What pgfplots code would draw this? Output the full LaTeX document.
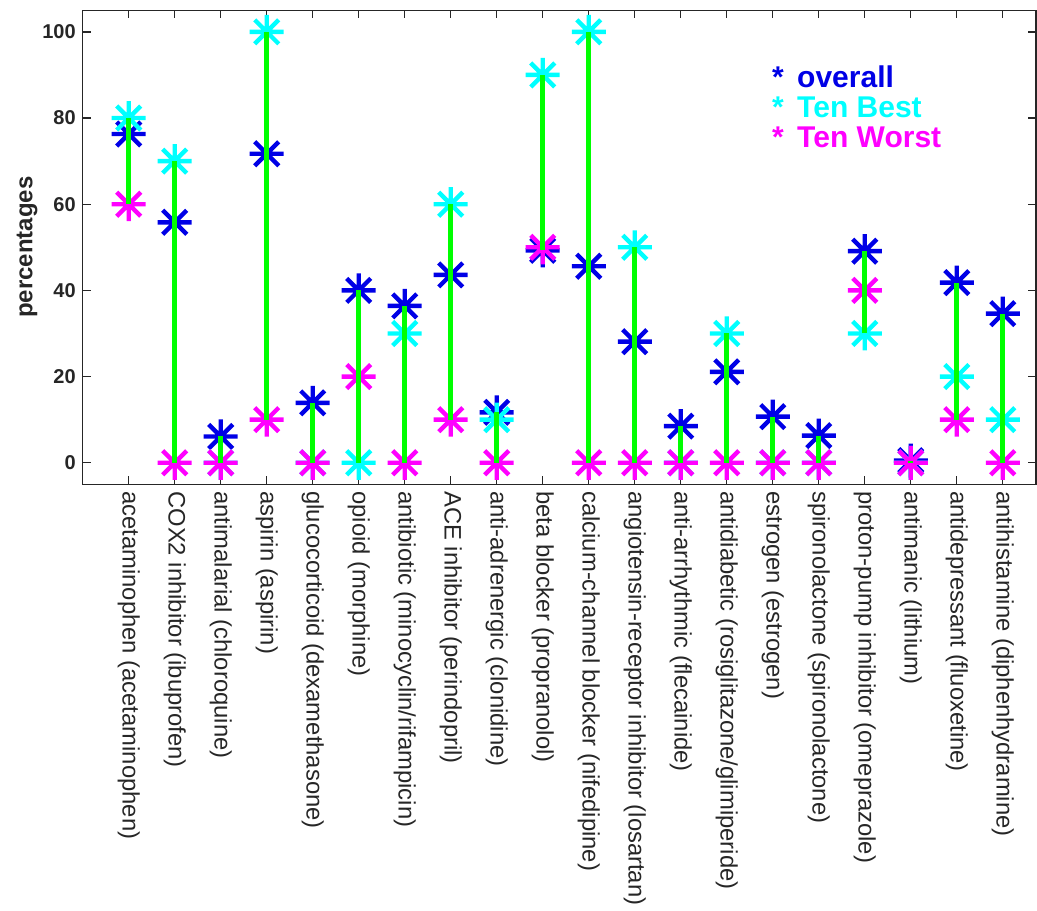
\documentclass[border=0pt]{standalone}
\usepackage{fontspec}
\setmainfont{Liberation Sans}
\usepackage{pgfplots}
\pgfplotsset{compat=1.18}
\usepackage{pgfplotstable}
\definecolor{axgray}{RGB}{38,38,38}
\definecolor{mblue}{RGB}{0,0,230}
\definecolor{mcyan}{RGB}{0,255,255}
\definecolor{mmag}{RGB}{255,0,255}
\definecolor{mgreen}{RGB}{0,255,0}
\pgfdeclareplotmark{mstar}{%
 \pgfpathmoveto{\pgfpoint{-\pgfplotmarksize}{0pt}}\pgfpathlineto{\pgfpoint{\pgfplotmarksize}{0pt}}%
 \pgfpathmoveto{\pgfpoint{0pt}{-\pgfplotmarksize}}\pgfpathlineto{\pgfpoint{0pt}{\pgfplotmarksize}}%
 \pgfpathmoveto{\pgfpoint{-0.707\pgfplotmarksize}{-0.707\pgfplotmarksize}}\pgfpathlineto{\pgfpoint{0.707\pgfplotmarksize}{0.707\pgfplotmarksize}}%
 \pgfpathmoveto{\pgfpoint{-0.707\pgfplotmarksize}{0.707\pgfplotmarksize}}\pgfpathlineto{\pgfpoint{0.707\pgfplotmarksize}{-0.707\pgfplotmarksize}}%
 \pgfusepathqstroke}
\pgfplotstableread{
x overall best worst
1 76.3 80 60
2 55.8 70 0
3 6.1 0 0
4 71.7 100 10
5 13.9 0 0
6 40 0 20
7 36.4 30 0
8 43.6 60 10
9 11.7 10 0
10 49.3 90 50
11 45.6 100 0
12 28.1 50 0
13 8.5 0 0
14 21.1 30 0
15 10.7 0 0
16 6.3 0 0
17 49.1 30 40
18 0.5 0 0
19 41.8 20 10
20 34.6 10 0
}\data
\begin{document}
\begin{tikzpicture}
\begin{axis}[name=ax, set layers, scale only axis, width=476.6pt, height=237pt,
 xmin=0, xmax=20.72, ymin=-5, ymax=105,
 xtick={1,...,20},
 xticklabels={acetaminophen (acetaminophen),COX2 inhibitor (ibuprofen),antimalarial (chloroquine),aspirin (aspirin),glucocorticoid (dexamethasone),opioid (morphine),antibiotic (minocyclin/rifampicin),ACE inhibitor (perindopril),anti-adrenergic (clonidine),beta blocker (propranolol),calcium-channel blocker (nifedipine),angiotensin-receptor inhibitor (losartan),anti-arrhythmic (flecainide),antidiabetic (rosiglitazone/glimiperide),estrogen (estrogen),spironolactone (spironolactone),proton-pump inhibitor (omeprazole),antimanic (lithium),antidepressant (fluoxetine),antihistamine (diphenhydramine)},
 xticklabel style={rotate=-90, anchor=west, font=\fontsize{11.9}{13}\selectfont, text=axgray},
 ytick={0,20,...,100},
 yticklabel style={font=\bfseries\fontsize{10}{12}\selectfont, text=axgray},
 /pgf/number format/assume math mode=true,
 tick align=inside, major tick length=4pt,
 axis line style={axgray, line width=0.7pt},
 tick style={axgray, line width=0.7pt},
 ylabel={percentages},
 every axis y label/.style={at={(rel axis cs:0,0.5)}, xshift=-27.8pt, rotate=90, anchor=center, font=\bfseries\fontsize{12}{14}\selectfont, text=axgray},
 unbounded coords=jump,
 clip=false]
\addplot[only marks, mark=mstar, mark size=8.5pt, mark options={line width=2.2pt, draw=mblue}] table[x=x, y=overall] {\data};
\addplot[only marks, mark=mstar, mark size=8.5pt, mark options={line width=2.2pt, draw=mcyan}] table[x=x, y=best] {\data};
\addplot[only marks, mark=mstar, mark size=8.5pt, mark options={line width=2.2pt, draw=mmag}] table[x=x, y=worst] {\data};
\addplot[mgreen, line width=2.6pt, line cap=butt, on layer=axis foreground] coordinates {
(1,60) (1,80) (1,nan)
(2,0) (2,70) (2,nan)
(3,0) (3,6.1) (3,nan)
(4,10) (4,100) (4,nan)
(5,0) (5,13.9) (5,nan)
(6,0) (6,40) (6,nan)
(7,0) (7,36.4) (7,nan)
(8,10) (8,60) (8,nan)
(9,0) (9,11.7) (9,nan)
(10,49.3) (10,90) (10,nan)
(11,0) (11,100) (11,nan)
(12,0) (12,50) (12,nan)
(13,0) (13,8.5) (13,nan)
(14,0) (14,30) (14,nan)
(15,0) (15,10.7) (15,nan)
(16,0) (16,6.3) (16,nan)
(17,30) (17,49.1) (17,nan)
(18,0) (18,0.5) (18,nan)
(19,10) (19,41.8) (19,nan)
(20,0) (20,34.6)
};
\node[anchor=north west, inner sep=0pt, align=left, font=\bfseries\fontsize{15}{15}\selectfont] at (axis cs:14.98,92.2)
 {\textcolor{mblue}{*\ \,overall}\\ \textcolor{mcyan}{*\ \,Ten Best}\\ \textcolor{mmag}{*\ \,Ten Worst}};
\end{axis}
\pgfresetboundingbox
\path[use as bounding box] (ax.south west) ++(-41.35pt,-212.85pt) rectangle ++(518.5pt,455pt);
\end{tikzpicture}
\end{document}
